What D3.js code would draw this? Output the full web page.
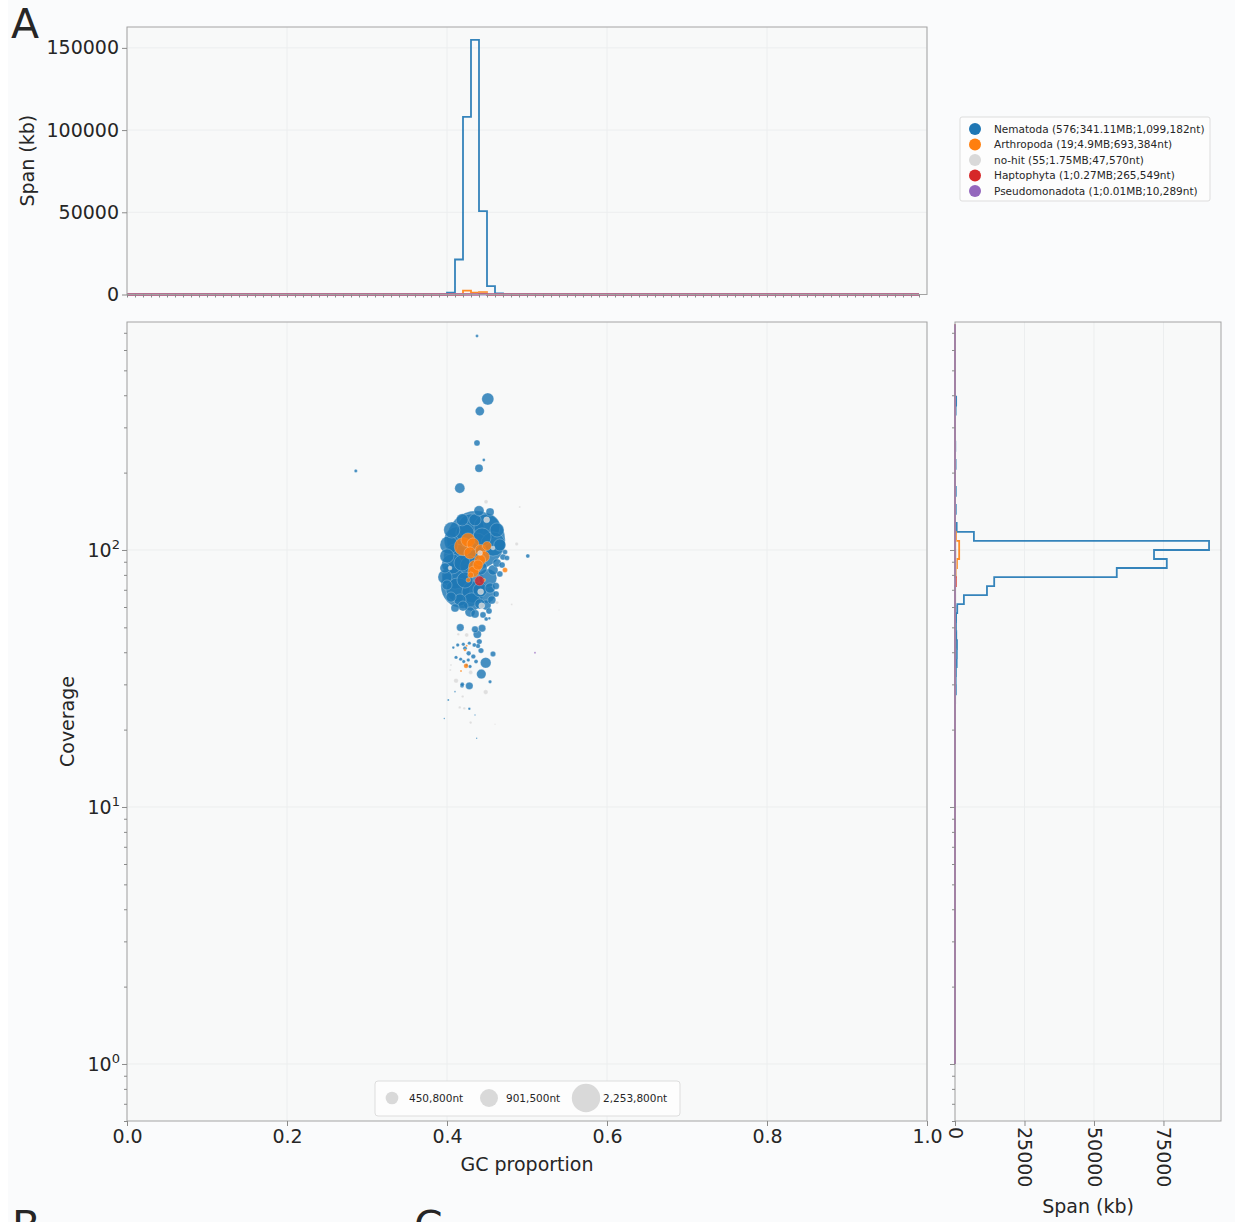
<!DOCTYPE html>
<html><head><meta charset="utf-8">
<script src="https://cdn.jsdelivr.net/npm/d3@7"></script>
<style>
body{margin:0;background:#ffffff;}
text{font-family:"DejaVu Sans",sans-serif;fill:#262626;}
</style>
</head><body>
<svg id="c" width="1239" height="1222"></svg>
<script>
// ---------------- DATA ----------------
const categories = ["Nematoda","Arthropoda","no-hit","Haptophyta","Pseudomonadota"];
const legendLabels = [
  "Nematoda (576;341.11MB;1,099,182nt)",
  "Arthropoda (19;4.9MB;693,384nt)",
  "no-hit (55;1.75MB;47,570nt)",
  "Haptophyta (1;0.27MB;265,549nt)",
  "Pseudomonadota (1;0.01MB;10,289nt)"
];
const colors = ["#1f77b4","#ff7f0e","#d9d9d9","#d62728","#9467bd"];

// scatter points: [GC proportion, coverage, length nt]
const nematodaPts = [
  [0.4375,680,25000],[0.451,387,407000],[0.441,347,229000],[0.4375,261,102000],[0.446,224,25000],
  [0.44,208,181000],[0.286,203,30000],[0.416,174,283000],[0.44,142,283000],[0.501,94.8,45000],[0.475,93.1,71000],
  [0.4363,109.4,9520000],[0.42,72.4,5480000],
  [0.414,109,2200000],[0.43,123,1910000],[0.45,123,1910000],[0.4575,105.5,1630000],[0.436,103.7,1910000],
  [0.411,94.8,1630000],[0.41,79.2,1910000],[0.4138,69.9,1630000],[0.4325,68.6,1370000],[0.449,67.4,917000],
  [0.431,62.8,917000],[0.451,77.8,917000],[0.406,88.2,1130000],[0.4288,86.6,1130000],[0.4025,104.6,917000],
  [0.406,119.6,724000],[0.4225,116.5,917000],[0.4438,112.3,917000],[0.4625,119.6,555000],[0.466,104.6,407000],
  [0.4188,89.0,724000],[0.4413,85.1,555000],[0.4,94.8,555000],[0.3975,78.5,555000],[0.4225,76.4,724000],
  [0.4413,69.9,555000],[0.4163,63.9,407000],[0.4538,71.1,283000],[0.4575,83.6,283000],[0.4488,61.1,283000],
  [0.4288,57.4,283000],[0.41,59.5,181000],[0.4688,87.4,102000],[0.4725,98.2,71000],[0.4613,67.4,102000],
  [0.435,131,407000],[0.4538,140.6,181000],
  [0.4625,89.0,181000],[0.47,93.9,102000],[0.466,80.7,102000],[0.461,72.4,139000],[0.456,63.9,181000],
  [0.4525,57.9,102000],[0.445,55.9,102000],[0.435,56.4,181000],[0.449,53.9,45000],
  [0.419,131,407000],[0.3975,85.1,283000],[0.4,73.1,283000],[0.405,65.6,283000],[0.42,60.5,283000],[0.441,61.7,283000],
  [0.4166,49.9,155000],[0.435,49.1,123000],[0.4438,49.6,155000],[0.4379,47.0,181000],[0.4404,44.0,82000],
  [0.4388,42.3,60000],[0.4484,36.4,318000],[0.4429,32.9,250000],[0.4279,29.6,155000],[0.4188,29.6,45000],
  [0.4575,39.4,82000],[0.4538,30.7,33000],[0.4425,40.6,82000],[0.4329,38.5,60000],[0.4271,39.6,60000],
  [0.4225,41.5,45000],[0.4134,42.7,33000],[0.4079,41.7,19000],[0.4204,43.0,33000],[0.4279,43.4,33000],
  [0.4341,42.7,45000],[0.4113,38.2,33000],[0.4171,37.6,33000],[0.4209,36.8,33000],[0.4246,35.7,19000],
  [0.4363,36.8,45000],[0.4266,37.3,33000],[0.4288,35.2,33000],[0.4191,30.0,45000],[0.4016,26.1,11000],
  [0.41,28.1,7000],[0.3966,22.1,5500],[0.4279,24.1,19000],[0.435,22.8,5500],[0.4371,18.5,5500],[0.4529,54.2,19000]
];
const arthropodaPts = [
  [0.4204,103.0,917000],[0.4263,109.4,555000],[0.4325,105.5,407000],[0.4421,100,342000],[0.4463,94.2,342000],
  [0.435,86.1,478000],[0.4329,82.3,342000],[0.4413,91.4,342000],[0.4266,76.4,60000],[0.4463,76.4,33000],
  [0.4296,79.9,102000],[0.4725,83.6,71000],[0.4225,40.8,19000],[0.4238,35.4,60000],[0.4175,33.8,11000],
  [0.4246,42.4,11000],[0.4388,87.4,283000],[0.4288,97.3,407000],[0.45,103.7,229000]
];
const nohitPts = [
  [0.4488,154,45000],[0.4909,147,11000],[0.4871,105.5,33000],[0.4496,131,102000],[0.4413,97.3,71000],
  [0.4038,85.1,45000],[0.4575,101.8,45000],[0.4625,62.4,33000],[0.4809,61.3,11000],[0.4113,31.0,60000],
  [0.4296,33.4,45000],[0.4484,28.0,60000],[0.4196,26.9,19000],[0.4159,24.4,19000],[0.4216,24.2,19000],
  [0.4296,21.3,19000],[0.4246,46.7,45000],[0.4141,47.0,19000],[0.405,35.7,11000],[0.4041,34.1,11000],
  [0.4434,60.7,102000],[0.46,21.0,5500],[0.54,58.4,5500],[0.4421,68.8,102000]
];
const haptophytaPts = [[0.4406,75.8,265549]];
const pseudomonadotaPts = [[0.51,39.8,10289]];

// GC histogram (bin start, span kb), bin width 0.01
const gcBinWidth = 0.01;
const gcHistNematoda = [[0.28,30],[0.39,10],[0.40,1200],[0.41,21300],[0.42,108000],[0.43,154900],[0.44,50700],[0.45,5100],[0.46,600],[0.47,70],[0.50,45]];
const gcHistArthropoda = [[0.42,2300],[0.43,1100],[0.44,1400],[0.47,70]];
const gcHistNohit = [[0.40,60],[0.41,250],[0.42,350],[0.43,400],[0.44,450],[0.45,170],[0.46,40],[0.48,20],[0.49,10],[0.54,5]];
const gcHistHaptophyta = [[0.44,266]];
const gcHistPseudomonadota = [[0.51,10]];

// coverage histogram (log10 bin index, span kb), bin width 2/57 in log10
const covBinCount = 82;
const covBinsPerTwoDecades = 57;
const covHistNematoda = [[36,6],[38,10],[40,50],[41,300],[42,250],[43,350],[44,600],[45,650],[46,700],[47,450],[48,350],[49,400],
  [50,800],[51,3200],[52,11500],[53,14100],[54,58200],[55,76200],[56,71600],[57,91400],[58,6800],[59,600],
  [61,280],[63,280],[66,210],[68,100],[72,230],[73,410],[80,25]];
const covHistArthropoda = [[44,20],[46,60],[47,40],[53,150],[54,300],[55,700],[56,1500],[57,1500],[58,360]];
const covHistNohit = [[37,10],[39,30],[41,30],[42,40],[43,80],[44,50],[45,100],[46,50],[48,60],[51,140],[52,120],[53,150],[54,200],[55,250],[56,300],[57,200],[58,100],[62,33],[67,11],[68,45]];
const covHistHaptophyta = [[53,266]];
const covHistPseudomonadota = [[47,10]];

// ticks
const gcTicks = [0,0.2,0.4,0.6,0.8,1.0];
const gcTickLabels = ["0.0","0.2","0.4","0.6","0.8","1.0"];
const spanTicksTop = [0,50000,100000,150000];
const covMajorTicks = [1,10,100];
const covTickExponents = ["0","1","2"];
const spanTicksRight = [0,25000,50000,75000];
const sizeLegend = [450800,901500,2253800];
const sizeLegendLabels = ["450,800nt","901,500nt","2,253,800nt"];

// ---------------- LAYOUT ----------------
const svg = d3.select("#c");
const mainL=127, mainR=927, mainT=322, mainB=1121;
const topT=27, topB=294.5;
const rightL=955, rightR=1221;
const gridColor="#eceeef", frameColor="#a3a3a3", tickColor="#8a8a8a";

svg.append("rect").attr("x",8).attr("y",0).attr("width",1227).attr("height",1222).attr("fill","#fafbfc");

const x = d3.scaleLinear().domain([0,1]).range([mainL,mainR]);
const y = d3.scaleLog().domain([0.6,771]).range([mainB,mainT]);
const yTop = d3.scaleLinear().domain([0,162700]).range([topB,topT]);
const xRight = d3.scaleLinear().domain([0,95700]).range([rightL,rightR]);
const rScale = d3.scaleSqrt().domain([0,2253800]).range([0,14.2]);

function panel(x0,y0,x1,y1){
  svg.append("rect").attr("x",x0).attr("y",y0).attr("width",x1-x0).attr("height",y1-y0)
    .attr("fill","#f8f9f9");
}
panel(mainL,topT,mainR,topB);
panel(mainL,mainT,mainR,mainB);
panel(rightL,mainT,rightR,mainB);

const grid = svg.append("g").attr("stroke",gridColor).attr("stroke-width",1);
gcTicks.forEach(t=>{
  grid.append("line").attr("x1",x(t)).attr("x2",x(t)).attr("y1",mainT).attr("y2",mainB);
  grid.append("line").attr("x1",x(t)).attr("x2",x(t)).attr("y1",topT).attr("y2",topB);
});
spanTicksTop.forEach(t=>grid.append("line").attr("x1",mainL).attr("x2",mainR).attr("y1",yTop(t)).attr("y2",yTop(t)));
covMajorTicks.forEach(t=>{
  grid.append("line").attr("x1",mainL).attr("x2",mainR).attr("y1",y(t)).attr("y2",y(t));
  grid.append("line").attr("x1",rightL).attr("x2",rightR).attr("y1",y(t)).attr("y2",y(t));
});
spanTicksRight.forEach(t=>grid.append("line").attr("x1",xRight(t)).attr("x2",xRight(t)).attr("y1",mainT).attr("y2",mainB));

// ---------------- TOP HISTOGRAM ----------------
const gcHists=[gcHistNematoda,gcHistArthropoda,gcHistNohit,gcHistHaptophyta,gcHistPseudomonadota];
const nGcBins = 99;
gcHists.forEach((h,i)=>{
  const vals = new Array(nGcBins).fill(0);
  h.forEach(([b,v])=>{ vals[Math.round(b/gcBinWidth)] = v; });
  let d = `M${x(0)},${yTop(0)}`;
  vals.forEach((v,k)=>{ d += `L${x(k*gcBinWidth)},${yTop(v)}L${x((k+1)*gcBinWidth)},${yTop(v)}`; });
  d += `L${x(nGcBins*gcBinWidth)},${yTop(0)}`;
  svg.append("path").attr("d",d).attr("fill","none").attr("stroke",colors[i])
    .attr("stroke-width",1.8).attr("stroke-opacity",0.9);
});

// ---------------- RIGHT HISTOGRAM ----------------
const covHists=[covHistNematoda,covHistArthropoda,covHistNohit,covHistHaptophyta,covHistPseudomonadota];
const covEdge = j => Math.pow(10, j*2/covBinsPerTwoDecades);
covHists.forEach((h,i)=>{
  const vals = new Array(covBinCount).fill(0);
  h.forEach(([j,v])=>{ vals[j]=v; });
  let d = `M${xRight(0)},${y(covEdge(0))}`;
  vals.forEach((v,j)=>{ d += `L${xRight(v)},${y(covEdge(j))}L${xRight(v)},${y(covEdge(j+1))}`; });
  d += `L${xRight(0)},${y(covEdge(covBinCount))}`;
  svg.append("path").attr("d",d).attr("fill","none").attr("stroke",colors[i])
    .attr("stroke-width",1.8).attr("stroke-opacity",0.9);
});

// ---------------- SCATTER ----------------
const allPts=[nematodaPts,arthropodaPts,nohitPts,haptophytaPts,pseudomonadotaPts];
const sc = svg.append("g");
allPts.forEach((pts,i)=>{
  const sorted = pts.slice().sort((a,b)=>b[2]-a[2]);
  sc.selectAll(null).data(sorted).enter().append("circle")
    .attr("cx",d=>x(d[0])).attr("cy",d=>y(d[1])).attr("r",d=>Math.max(0.7,rScale(d[2])))
    .attr("fill",colors[i]).attr("fill-opacity",0.82)
    .attr("stroke","#ffffff").attr("stroke-width",0.6).attr("stroke-opacity",0.4);
});

// ---------------- FRAMES ----------------
[[mainL,topT,mainR,topB],[mainL,mainT,mainR,mainB],[rightL,mainT,rightR,mainB]].forEach(([a,b,c,d])=>{
  svg.append("rect").attr("x",a).attr("y",b).attr("width",c-a).attr("height",d-b)
    .attr("fill","none").attr("stroke",frameColor).attr("stroke-width",1);
});

// ---------------- AXES ----------------
function styleAxis(g){
  g.select(".domain").remove();
  g.selectAll(".tick line").attr("stroke",tickColor);
  g.selectAll("text").attr("font-size","19px").attr("fill","#262626").attr("font-family","DejaVu Sans");
}
svg.append("g").attr("transform",`translate(0,${mainB})`)
  .call(d3.axisBottom(x).tickValues(gcTicks).tickSize(5).tickPadding(4).tickFormat((d,i)=>gcTickLabels[i]))
  .call(styleAxis);
svg.append("g").attr("transform",`translate(0,${topB})`)
  .call(d3.axisBottom(x).tickValues(d3.range(0,100).map(k=>k/100)).tickSize(3).tickFormat(""))
  .call(styleAxis);
svg.append("g").attr("transform",`translate(${mainL},0)`)
  .call(d3.axisLeft(yTop).tickValues(spanTicksTop).tickSize(5).tickPadding(3).tickFormat(d3.format("d")))
  .call(styleAxis);
svg.append("g").attr("transform",`translate(${mainL},0)`)
  .call(d3.axisLeft(y).tickValues(covMajorTicks).tickSize(5).tickFormat(""))
  .call(styleAxis);
covMajorTicks.forEach((t,i)=>{
  const tx = svg.append("text").attr("x",mainL-7).attr("y",y(t)+7).attr("text-anchor","end").attr("font-size","19px");
  tx.append("tspan").text("10");
  tx.append("tspan").attr("dy",-8).attr("font-size","13px").text(covTickExponents[i]);
});
const minorY = y.ticks().filter(v=>covMajorTicks.indexOf(v)<0);
svg.append("g").attr("transform",`translate(${mainL},0)`)
  .call(d3.axisLeft(y).tickValues(minorY).tickSize(3).tickFormat("")).call(styleAxis);
svg.append("g").attr("transform",`translate(${rightL},0)`)
  .call(d3.axisLeft(y).tickValues(minorY).tickSize(3).tickFormat("")).call(styleAxis);
svg.append("g").attr("transform",`translate(${rightL},0)`)
  .call(d3.axisLeft(y).tickValues(covMajorTicks).tickSize(5).tickFormat("")).call(styleAxis);
const rx = svg.append("g").attr("transform",`translate(0,${mainB})`)
  .call(d3.axisBottom(xRight).tickValues(spanTicksRight).tickSize(5).tickFormat(d3.format("d")))
  .call(styleAxis);
rx.selectAll(".tick text").attr("transform","rotate(90)").attr("text-anchor","start")
  .attr("x",6).attr("y",0).attr("dy","0.35em");

// axis titles
svg.append("text").attr("x",(mainL+mainR)/2).attr("y",1171).attr("text-anchor","middle").attr("font-size","19px").text("GC proportion");
svg.append("text").attr("transform",`translate(74,${(mainT+mainB)/2}) rotate(-90)`).attr("text-anchor","middle").attr("font-size","19px").text("Coverage");
svg.append("text").attr("transform",`translate(34,${(topT+topB)/2}) rotate(-90)`).attr("text-anchor","middle").attr("font-size","19px").text("Span (kb)");
svg.append("text").attr("x",(rightL+rightR)/2).attr("y",1213).attr("text-anchor","middle").attr("font-size","19px").text("Span (kb)");

// panel letters (B and C are cut by the bottom edge, as in the reference)
svg.append("text").attr("x",11).attr("y",38).attr("font-size","41px").text("A");
svg.append("text").attr("x",12).attr("y",1240).attr("font-size","41px").text("B");
svg.append("text").attr("x",414).attr("y",1240).attr("font-size","41px").text("C");

// ---------------- LEGENDS ----------------
const lg = svg.append("g");
lg.append("rect").attr("x",960).attr("y",117).attr("width",250).attr("height",84).attr("rx",2)
  .attr("fill","#fdfdfd").attr("stroke","#dddddd");
legendLabels.forEach((lab,i)=>{
  const yy = 129 + i*15.5;
  lg.append("circle").attr("cx",975).attr("cy",yy).attr("r",6).attr("fill",colors[i]);
  lg.append("text").attr("x",994).attr("y",yy).attr("dy","0.35em").attr("font-size","10.5px").text(lab);
});
const sl = svg.append("g");
sl.append("rect").attr("x",375).attr("y",1081).attr("width",305).attr("height",35).attr("rx",3)
  .attr("fill","#fdfdfd").attr("stroke","#dddddd");
const slX=[392,489,586];
sizeLegend.forEach((v,i)=>{
  sl.append("circle").attr("cx",slX[i]).attr("cy",1098).attr("r",rScale(v)).attr("fill","#d9d9d9");
  sl.append("text").attr("x",slX[i]+17).attr("y",1098).attr("dy","0.35em").attr("font-size","10.5px").text(sizeLegendLabels[i]);
});
</script>
</body></html>
